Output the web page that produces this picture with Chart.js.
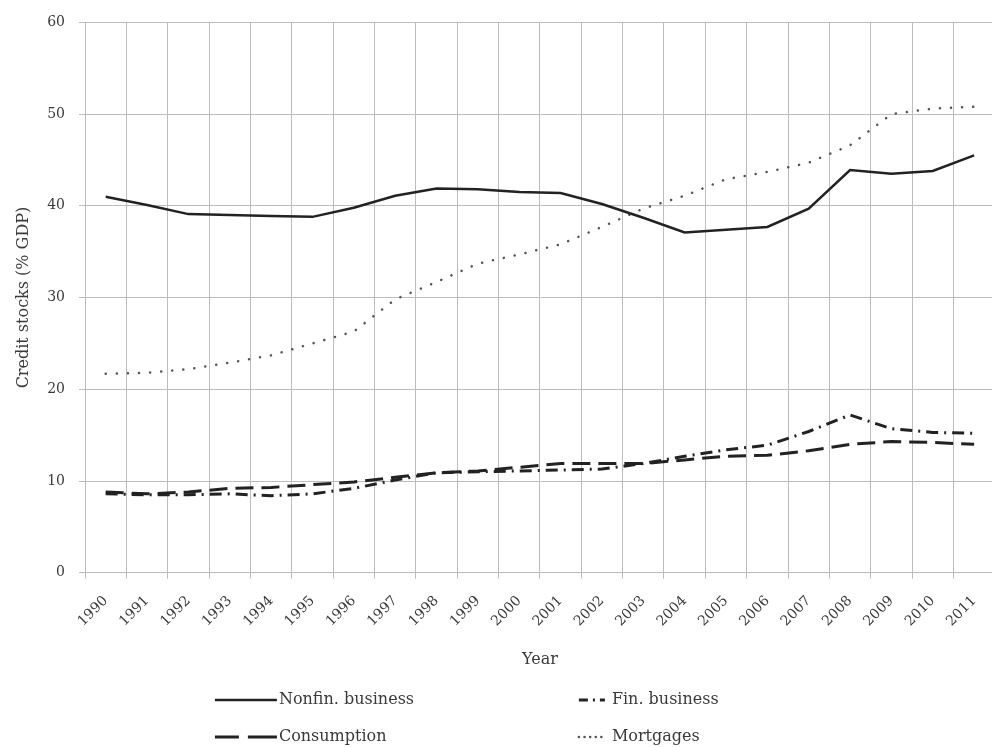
<!DOCTYPE html>
<html>
<head>
<meta charset="utf-8">
<script src="https://cdn.jsdelivr.net/npm/chart.js@4.4.1/dist/chart.umd.min.js"></script>
<style>
    html, body { margin: 0; padding: 0; background: #fff; overflow: hidden; }
    #wrap { width: 1000px; height: 747px; }
</style>
</head>
<body>
<div id="wrap"><canvas id="creditChart"></canvas></div>
<script>
const years = ['1990', '1991', '1992', '1993', '1994', '1995', '1996', '1997', '1998', '1999', '2000',
    '2001', '2002', '2003', '2004', '2005', '2006', '2007', '2008', '2009', '2010', '2011'];

const nonfinBusiness = [41.0, 40.1, 39.1, 39.0, 38.9, 38.8, 39.8, 41.1, 41.9, 41.8, 41.5,
    41.4, 40.2, 38.7, 37.1, 37.4, 37.7, 39.7, 43.9, 43.5, 43.8, 45.5];
const finBusiness = [8.6, 8.5, 8.5, 8.6, 8.4, 8.6, 9.2, 10.1, 10.9, 11.0, 11.1,
    11.2, 11.3, 11.9, 12.7, 13.4, 13.9, 15.4, 17.2, 15.7, 15.3, 15.2];
const consumption = [8.8, 8.6, 8.8, 9.2, 9.3, 9.6, 9.9, 10.4, 10.9, 11.1, 11.5,
    11.9, 11.9, 11.9, 12.3, 12.7, 12.8, 13.3, 14.0, 14.3, 14.2, 14.0];
const mortgages = [21.7, 21.8, 22.2, 22.9, 23.7, 25.0, 26.3, 29.8, 31.7, 33.7, 34.7,
    35.8, 37.7, 39.7, 41.1, 42.9, 43.7, 44.7, 46.6, 50.0, 50.6, 50.8];

const yTicks = [0, 10, 20, 30, 40, 50, 60];

const textColor = '#3a3a3a';
const gridColor = '#bdbdbd';
const serif = "'DejaVu Serif', serif";

// legend drawn as a 2x2 grid under the axis title
const legendGrid = {
    id: 'legendGrid',
    afterDraw(chart) {
        const { ctx, chartArea } = chart;
        const mid = (chartArea.left + chartArea.right) / 2;
        const cols = [
            { sample: mid - 325, len: 62, text: mid - 261 },
            { sample: mid + 39, len: 26, text: mid + 72 },
        ];
        const rows = [chart.height - 47, chart.height - 10];
        // row 1 Nonfin / Fin, row 2 Consumption / Mortgages
        const cells = [[0, 0, 0], [1, 1, 0], [2, 0, 1], [3, 1, 1]];
        ctx.save();
        ctx.font = '16px ' + serif;
        ctx.textBaseline = 'middle';
        ctx.textAlign = 'left';
        cells.forEach(([i, c, r]) => {
            const ds = chart.data.datasets[i];
            const col = cols[c];
            const y = rows[r];
            ctx.strokeStyle = ds.borderColor;
            ctx.lineWidth = ds.borderWidth;
            ctx.lineCap = ds.borderCapStyle || 'butt';
            ctx.setLineDash(ds.legendDash || ds.borderDash || []);
            ctx.beginPath();
            ctx.moveTo(col.sample, y);
            ctx.lineTo(col.sample + col.len, y);
            ctx.stroke();
            ctx.setLineDash([]);
            ctx.fillStyle = textColor;
            ctx.fillText(ds.label, col.text, y);
        });
        ctx.restore();
    }
};

const ctx = document.getElementById('creditChart').getContext('2d');

new Chart(ctx, {
    type: 'line',
    data: {
        labels: years,
        datasets: [
            {
                label: 'Nonfin. business',
                data: nonfinBusiness,
                borderColor: '#222222',
                borderWidth: 2.5,
                pointRadius: 0,
                tension: 0,
            },
            {
                label: 'Fin. business',
                data: finBusiness,
                borderColor: '#222222',
                borderWidth: 3,
                borderDash: [12, 6, 2, 6],
                legendDash: [9, 5, 2, 5],
                pointRadius: 0,
                tension: 0,
            },
            {
                label: 'Consumption',
                data: consumption,
                borderColor: '#222222',
                borderWidth: 3,
                borderDash: [18, 8],
                legendDash: [24, 9, 29, 10],
                pointRadius: 0,
                tension: 0,
            },
            {
                label: 'Mortgages',
                data: mortgages,
                borderColor: '#555555',
                borderWidth: 2.5,
                borderDash: [0.1, 11],
                legendDash: [0.1, 5.5],
                borderCapStyle: 'round',
                pointRadius: 0,
                tension: 0,
            },
        ],
    },
    options: {
        responsive: true,
        maintainAspectRatio: false,
        animation: false,
        layout: {
            padding: { top: 22, right: 0, bottom: 74, left: 0 }
        },
        plugins: {
            legend: { display: false },
            tooltip: { enabled: false }
        },
        scales: {
            x: {
                offset: true,
                grid: {
                    offset: true,
                    color: gridColor,
                    tickLength: 6,
                },
                border: { color: gridColor },
                ticks: {
                    color: textColor,
                    font: { family: serif, size: 14 },
                    minRotation: 45,
                    maxRotation: 45,
                    padding: 14,
                },
                title: {
                    display: true,
                    text: 'Year',
                    color: textColor,
                    font: { family: serif, size: 16 },
                    padding: { top: 6, bottom: 4 },
                }
            },
            y: {
                min: 0,
                max: 60,
                afterBuildTicks: (scale) => {
                    scale.ticks = yTicks.map(v => ({ value: v }));
                },
                grid: {
                    color: gridColor,
                    tickLength: 6,
                },
                border: { color: gridColor },
                ticks: {
                    color: textColor,
                    font: { family: serif, size: 14 },
                    padding: 14,
                },
                title: {
                    display: true,
                    text: 'Credit stocks (% GDP)',
                    color: textColor,
                    font: { family: serif, size: 16 },
                    padding: { top: 14, bottom: 0 },
                }
            },
        },
    },
    plugins: [legendGrid],
});
</script>
</body>
</html>
